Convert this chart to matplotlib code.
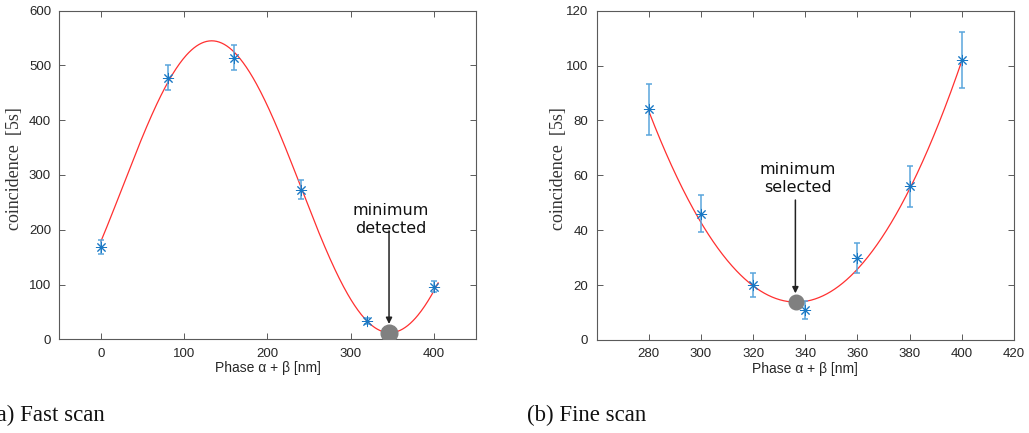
import numpy as np
import matplotlib.pyplot as plt

# fast scan data
fast_x = [0, 80, 160, 240, 320, 400]
fast_y = [168, 478, 514, 273, 33, 96]
fast_err = [13, 22, 23, 17, 5.7, 9.8]
# sinusoidal fit: offset, amplitude, peak position, period
fast_fit = [278.5, 266.5, 133, 428]
fast_fit_range = [0, 405]
fast_min = [346, 12]

# fine scan data
fine_x = [280, 300, 320, 340, 360, 380, 400]
fine_y = [84, 46, 20, 11, 30, 56, 102]
fine_err = [9.2, 6.8, 4.5, 3.3, 5.5, 7.5, 10.1]
# parabolic fit: vertex x, vertex y, curvature
fine_fit = [336.5, 13.8, 0.0218]
fine_fit_range = [280, 400]
fine_min = [336.5, 14]

plt.rcParams['font.family'] = ['Liberation Sans', 'DejaVu Sans']

err_col = '#5aa5dc'
mk_col = '#1a78c4'
ax_col = '#5a5a5a'


def style_axes(ax):
    for s in ax.spines.values():
        s.set_color(ax_col)
        s.set_linewidth(0.8)
    ax.tick_params(direction='in', length=4, width=0.7, color=ax_col,
                   labelsize=9.5, labelcolor='#262626', top=True, right=True, pad=6)
    ax.set_xlabel('Phase α + β [nm]', fontsize=10, color='#262626', labelpad=1)
    ax.set_ylabel('coincidence  [5s]', fontsize=13, color='#333333',
                  family=['Liberation Serif', 'DejaVu Serif'])


def draw(ax, x, y, err):
    ax.errorbar(x, y, yerr=err, fmt='none', ecolor=err_col, elinewidth=1.1,
                capsize=2.5, capthick=1.1, zorder=2)
    ax.plot(x, y, linestyle='none', marker=(8, 2, 0), markersize=8,
            markeredgecolor=mk_col, markeredgewidth=0.7, zorder=3)


fig = plt.figure(figsize=(10.29, 4.33), dpi=100)

# (a) fast scan
ax1 = fig.add_axes([0.0577, 0.2164, 0.4045, 0.7589])
xs = np.linspace(fast_fit_range[0], fast_fit_range[1], 400)
ys = fast_fit[0] + fast_fit[1] * np.cos(2 * np.pi * (xs - fast_fit[2]) / fast_fit[3])
ax1.plot(xs, ys, color='#ff3030', lw=0.9, zorder=1)
draw(ax1, fast_x, fast_y, fast_err)
ax1.plot(fast_min[0], fast_min[1], 'o', color='#808080', markersize=12, zorder=4)
ax1.annotate('', xy=(346, 28), xytext=(346, 198),
             arrowprops=dict(arrowstyle='-|>', color='#222222', lw=1.1,
                             mutation_scale=9, shrinkA=0, shrinkB=0))
ax1.text(348, 218, 'minimum\ndetected', ha='center', va='center', fontsize=11.5,
         family='DejaVu Sans', color='#111111', linespacing=1.25)
ax1.set_xlim(-50, 450)
ax1.set_ylim(0, 600)
ax1.set_xticks([0, 100, 200, 300, 400])
ax1.set_yticks(range(0, 601, 100))
style_axes(ax1)
ax1.yaxis.set_label_coords(-0.087, 0.52)

# (b) fine scan
ax2 = fig.add_axes([0.5798, 0.2148, 0.4056, 0.7605])
xs = np.linspace(fine_fit_range[0], fine_fit_range[1], 400)
ys = fine_fit[1] + fine_fit[2] * (xs - fine_fit[0]) ** 2
ax2.plot(xs, ys, color='#ff3030', lw=0.9, zorder=1)
draw(ax2, fine_x, fine_y, fine_err)
ax2.plot(fine_min[0], fine_min[1], 'o', color='#808080', markersize=10.5, zorder=4)
ax2.annotate('', xy=(336.2, 17), xytext=(336.2, 51),
             arrowprops=dict(arrowstyle='-|>', color='#222222', lw=1.1,
                             mutation_scale=9, shrinkA=0, shrinkB=0))
ax2.text(337.2, 59, 'minimum\nselected', ha='center', va='center', fontsize=11.5,
         family='DejaVu Sans', color='#111111', linespacing=1.25)
ax2.set_xlim(260, 420)
ax2.set_ylim(0, 120)
ax2.set_xticks(range(280, 421, 20))
ax2.set_yticks(range(0, 121, 20))
style_axes(ax2)
ax2.yaxis.set_label_coords(-0.071, 0.52)

cap_font = ['Liberation Serif', 'DejaVu Serif']
fig.text(-11 / 1029, 1 - 415 / 433, '(a) Fast scan', fontsize=16.5, family=cap_font,
         va='center', ha='left', color='#111111')
fig.text(527 / 1029, 1 - 415 / 433, '(b) Fine scan', fontsize=16.5, family=cap_font,
         va='center', ha='left', color='#111111')

fig.savefig('out.png', dpi=100)
